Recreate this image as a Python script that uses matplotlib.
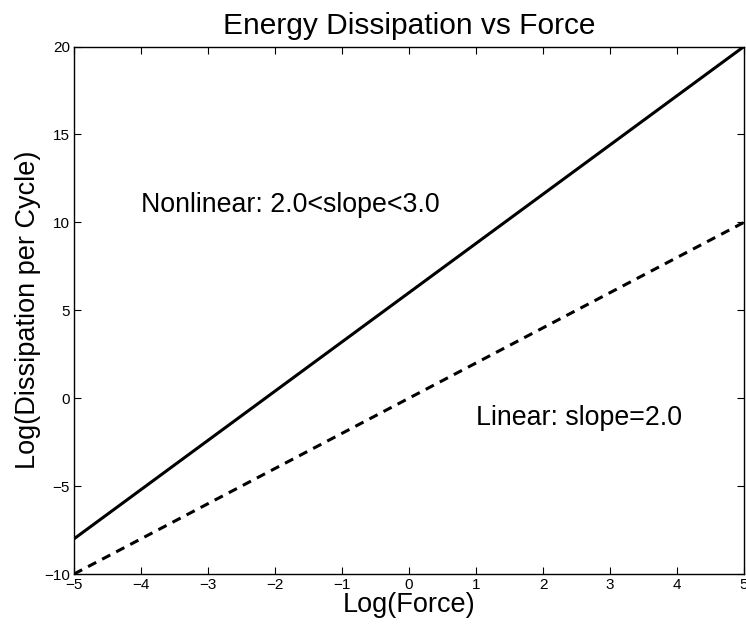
import numpy as np
import matplotlib.pyplot as plt

plt.rcParams["font.family"] = ["Liberation Sans", "DejaVu Sans"]

log_force = [-5, 5]
nonlinear = [-8, 20]
linear = [-10, 10]

fig = plt.figure(figsize=(7.46, 6.29), dpi=100)
ax = fig.add_axes([74 / 746, 55 / 629, 670 / 746, 527.5 / 629])

ax.plot(log_force, nonlinear, "k-", linewidth=2.2)
ax.plot(log_force, linear, "k--", linewidth=2.2, dashes=(3, 2.2))

ax.text(-4, 11, "Nonlinear: 2.0<slope<3.0", fontsize=19.3, va="center", ha="left")
ax.text(1, -1.1, "Linear: slope=2.0", fontsize=19.3, va="center", ha="left")

ax.set_xlim(-5, 5)
ax.set_ylim(-10, 20)
ax.set_xticks(np.arange(-5, 6, 1))
ax.set_yticks(np.arange(-10, 21, 5))
ax.set_xticklabels([str(v).replace("-", "\u2212") for v in range(-5, 6)])
ax.set_yticklabels([str(v).replace("-", "\u2212") for v in range(-10, 21, 5)])
ax.tick_params(direction="in", top=True, right=True, labelsize=11, length=5, width=0.8, pad=3)
for s in ax.spines.values():
    s.set_linewidth(1.0)

ax.set_title("Energy Dissipation vs Force", fontsize=21.5, pad=9)
ax.set_xlabel("Log(Force)", fontsize=19.5, labelpad=0)
ax.set_ylabel("Log(Dissipation per Cycle)", fontsize=19.5, labelpad=2)

fig.savefig("out.png", dpi=100)
